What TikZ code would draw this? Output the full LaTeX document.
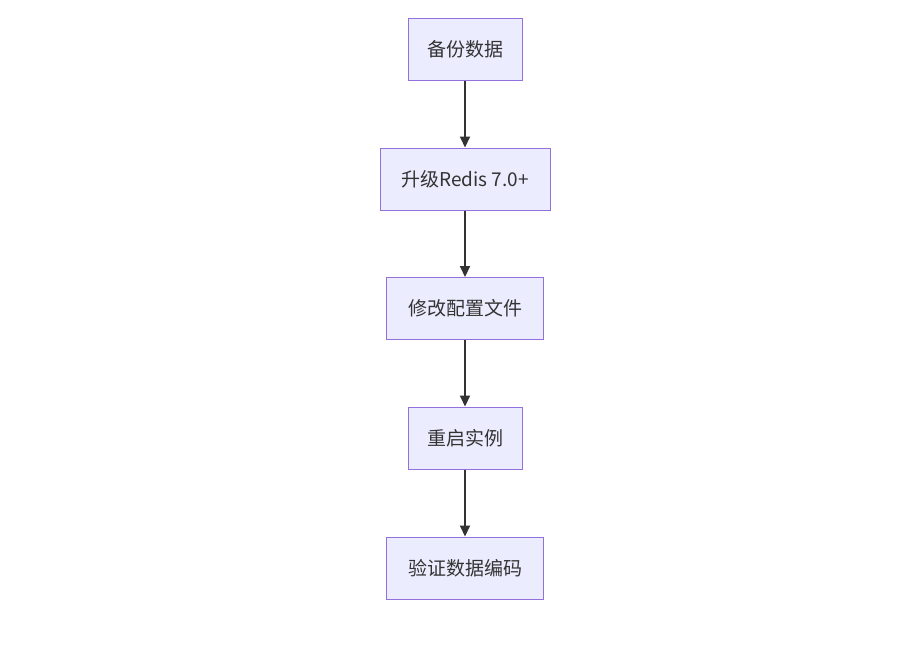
\documentclass[tikz,border=0pt]{standalone}
\usepackage{fontspec}
\setmainfont{Noto Sans CJK SC}
\usetikzlibrary{arrows.meta}
\definecolor{nfill}{HTML}{ECECFF}
\definecolor{nline}{HTML}{9370DB}
\definecolor{txt}{HTML}{333333}
\begin{document}
\begin{tikzpicture}[x=1pt,y=-1pt,
  box/.style={draw=nline,fill=nfill,line width=1pt,text=txt,minimum height=62pt,inner xsep=0pt,font=\fontsize{19}{22}\selectfont},
  arr/.style={draw=txt,line width=2pt,-{Triangle[length=11pt,width=10pt]}}]
\useasboundingbox (0,0) rectangle (899,649);
\node[box,minimum width=114pt] (a) at (465,49) {备份数据};
\node[box,minimum width=170pt] (b) at (465,179) {升级Redis 7.0+};
\node[box,minimum width=157pt] (c) at (465,308.5) {修改配置文件};
\node[box,minimum width=114pt] (d) at (465,438) {重启实例};
\node[box,minimum width=157pt] (e) at (465,568) {验证数据编码};
\draw[arr] (a) -- (b);
\draw[arr] (b) -- (c);
\draw[arr] (c) -- (d);
\draw[arr] (d) -- (e);
\end{tikzpicture}
\end{document}
